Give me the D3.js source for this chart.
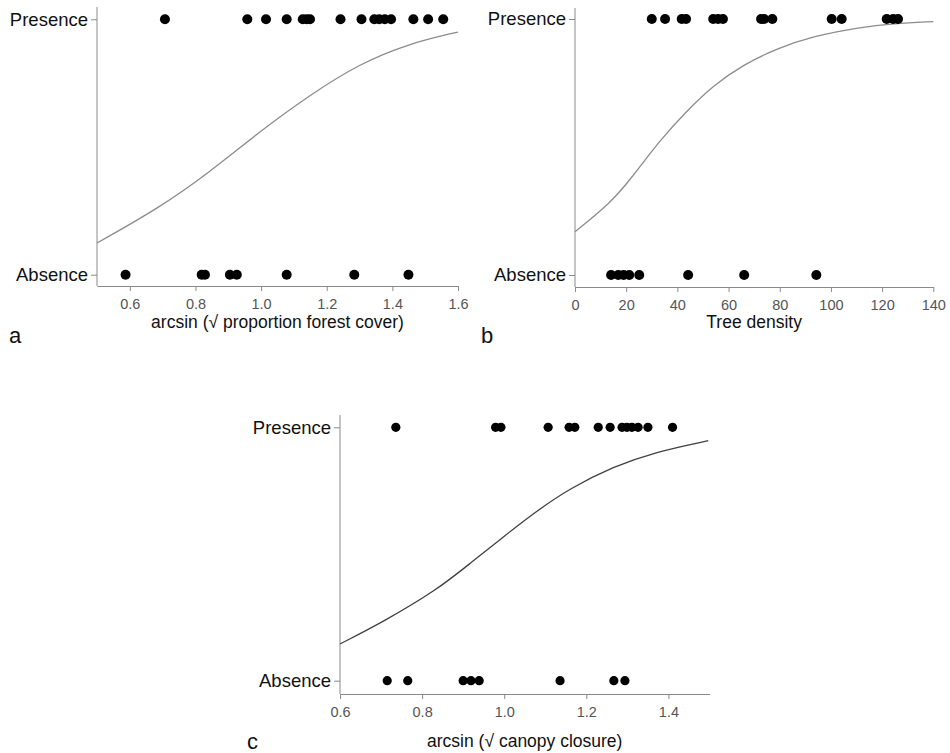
<!DOCTYPE html>
<html>
<head>
<meta charset="utf-8">
<script src="https://cdn.jsdelivr.net/npm/d3@7"></script>
<style>
  body { margin: 0; background: #fff; }
  text { font-family: "Liberation Sans", Arial, sans-serif; }
</style>
</head>
<body>
<div id="chart"></div>
<script>
// Panel a: forest cover, arcsin(sqrt(p))
var forestPresence = [0.707, 0.958, 1.015, 1.078, 1.127, 1.139, 1.149, 1.242, 1.306, 1.345, 1.360, 1.377, 1.396, 1.464, 1.509, 1.555];
var forestAbsence = [0.587, 0.819, 0.829, 0.905, 0.926, 1.078, 1.284, 1.449];
var forestCurveX = [0.50, 0.69, 0.84, 1.00, 1.15, 1.30, 1.45, 1.60];
var forestCurveP = [0.124, 0.262, 0.398, 0.565, 0.705, 0.826, 0.905, 0.950];
var forestTicks = [0.6, 0.8, 1.0, 1.2, 1.4, 1.6];

// Panel b: tree density
var treePresence = [30.0, 35.2, 41.7, 43.4, 54.0, 55.9, 57.8, 72.7, 73.9, 77.1, 100.3, 104.2, 121.8, 124.3, 126.2];
var treeAbsence = [14.1, 16.9, 19.0, 21.2, 25.1, 44.2, 66.1, 94.3];
var treeCurveX = [0, 13.7, 21.5, 33.2, 43.6, 54.0, 65.8, 78.9, 93.1, 111.4, 124.4, 140];
var treeCurveP = [0.169, 0.280, 0.371, 0.527, 0.640, 0.740, 0.822, 0.885, 0.933, 0.968, 0.982, 0.990];
var treeTicks = [0, 20, 40, 60, 80, 100, 120, 140];

// Panel c: canopy closure, arcsin(sqrt(p))
var canopyPresence = [0.736, 0.979, 0.992, 1.107, 1.158, 1.172, 1.229, 1.258, 1.287, 1.299, 1.311, 1.326, 1.350, 1.410];
var canopyAbsence = [0.715, 0.765, 0.900, 0.919, 0.939, 1.136, 1.267, 1.294];
var canopyCurveX = [0.600, 0.706, 0.836, 0.917, 0.998, 1.079, 1.160, 1.266, 1.371, 1.497];
var canopyCurveP = [0.145, 0.233, 0.358, 0.463, 0.568, 0.670, 0.759, 0.845, 0.904, 0.947];
var canopyTicks = [0.6, 0.8, 1.0, 1.2, 1.4];

var yLabels = ["Absence", "Presence"];

var svg = d3.select("#chart")
  .append("svg")
  .attr("width", 950)
  .attr("height", 753);

function drawPanel(p) {
  var g = svg.append("g");

  var x = d3.scaleLinear().domain(p.domain).range([p.left, p.right]);
  var y = d3.scaleLinear().domain([0, 1]).range([p.absY, p.presY]);

  // x axis
  var xa = g.append("g")
    .attr("transform", "translate(0," + p.axisY + ")")
    .call(d3.axisBottom(x)
      .tickValues(p.ticks)
      .tickFormat(p.fmt)
      .tickSize(5)
      .tickSizeOuter(0)
      .tickPadding(8));
  xa.selectAll("path, line").attr("stroke", "#8a8a8a");
  xa.selectAll("text")
    .style("font-size", "14.5px")
    .attr("fill", "#555");

  // y axis
  g.append("line")
    .attr("x1", p.left).attr("x2", p.left)
    .attr("y1", p.topY).attr("y2", p.axisY)
    .attr("stroke", "#8a8a8a");
  var ya = g.append("g")
    .attr("transform", "translate(" + p.left + ",0)")
    .call(d3.axisLeft(y)
      .tickValues([0, 1])
      .tickFormat(function(d) { return yLabels[d]; })
      .tickSize(6)
      .tickPadding(3));
  ya.select(".domain").remove();
  ya.selectAll("line").attr("stroke", "#8a8a8a");
  ya.selectAll("text")
    .style("font-size", "18.5px")
    .attr("fill", "#111");

  // fitted curve, smoothed
  var line = d3.line()
    .x(function(d) { return x(d[0]); })
    .y(function(d) { return y(d[1]); })
    .curve(d3.curveBasis);
  g.append("path")
    .datum(d3.zip(p.curveX, p.curveP))
    .attr("d", line)
    .attr("fill", "none")
    .attr("stroke", p.curveColor)
    .attr("stroke-width", 1.3);

  // observations
  g.selectAll(".pres")
    .data(p.presence)
    .enter()
    .append("circle")
    .attr("cx", function(d) { return x(d); })
    .attr("cy", y(1))
    .attr("r", p.r)
    .attr("fill", "#000");
  g.selectAll(".abs")
    .data(p.absence)
    .enter()
    .append("circle")
    .attr("cx", function(d) { return x(d); })
    .attr("cy", y(0))
    .attr("r", p.r)
    .attr("fill", "#000");

  // axis title and panel letter
  g.append("text")
    .attr("x", (p.left + p.right) / 2)
    .attr("y", p.titleY)
    .attr("text-anchor", "middle")
    .style("font-size", "17.5px")
    .attr("fill", "#111")
    .text(p.title);
  g.append("text")
    .attr("x", p.letterX)
    .attr("y", p.letterY)
    .style("font-size", "22px")
    .attr("fill", "#111")
    .text(p.letter);
}

drawPanel({
  domain: [0.5, 1.6], left: 97, right: 458,
  presY: 19.3, absY: 274.7, axisY: 286, topY: 7,
  ticks: forestTicks, fmt: d3.format(".1f"),
  curveX: forestCurveX, curveP: forestCurveP, curveColor: "#8c8c8c",
  presence: forestPresence, absence: forestAbsence, r: 5,
  title: "arcsin (\u221A proportion forest cover)", titleY: 328,
  letter: "a", letterX: 9, letterY: 343
});

drawPanel({
  domain: [0, 140], left: 575, right: 933.3,
  presY: 19, absY: 275, axisY: 287, topY: 8,
  ticks: treeTicks, fmt: d3.format("d"),
  curveX: treeCurveX, curveP: treeCurveP, curveColor: "#8c8c8c",
  presence: treePresence, absence: treeAbsence, r: 5,
  title: "Tree density", titleY: 328,
  letter: "b", letterX: 481, letterY: 343
});

drawPanel({
  domain: [0.6, 1.5], left: 340, right: 709.5,
  presY: 427.3, absY: 680.7, axisY: 694, topY: 415,
  ticks: canopyTicks, fmt: d3.format(".1f"),
  curveX: canopyCurveX, curveP: canopyCurveP, curveColor: "#404040",
  presence: canopyPresence, absence: canopyAbsence, r: 4.6,
  title: "arcsin (\u221A canopy closure)", titleY: 747,
  letter: "c", letterX: 247, letterY: 749
});
</script>
</body>
</html>
